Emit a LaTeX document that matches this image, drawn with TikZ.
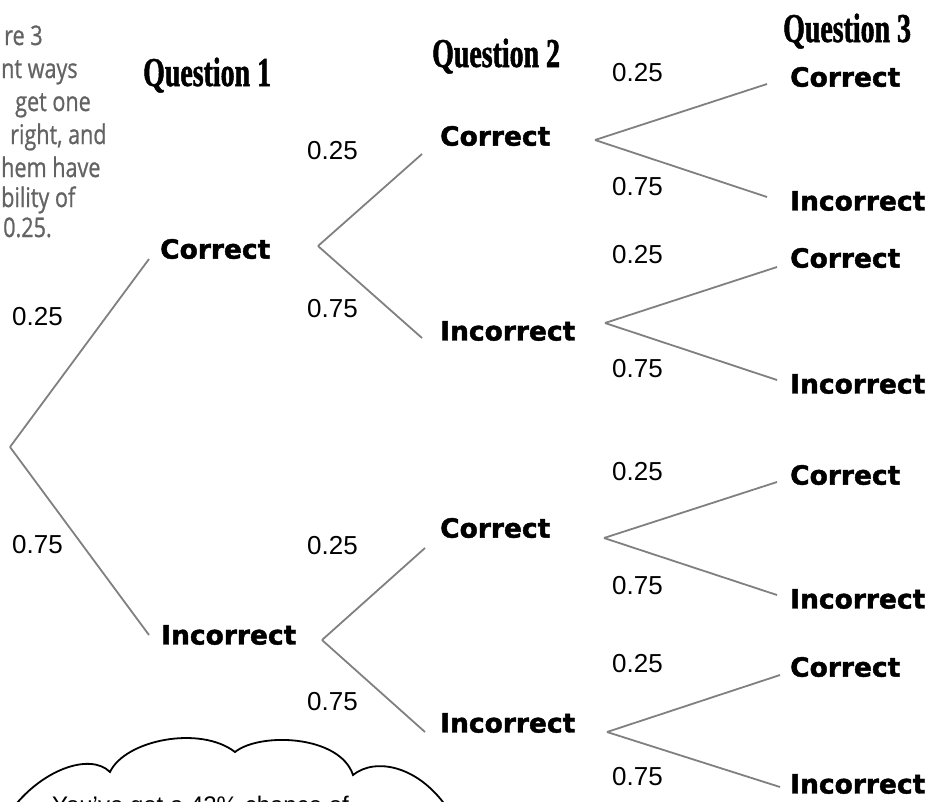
\documentclass[tikz,border=0pt]{standalone}
\usepackage{fontspec}
\setmainfont{Liberation Sans}
\newfontfamily\outfont[BoldFeatures={FakeBold=1.6}]{DejaVu Sans}
\newfontfamily\headfont[FakeStretch=0.68,BoldFeatures={FakeBold=1.2}]{Liberation Serif}
\newfontfamily\notefont[FakeStretch=0.8,FakeBold=0.8]{Open Sans}
\usetikzlibrary{positioning,calc}
\definecolor{cBranch}{HTML}{808080}
\definecolor{cNote}{HTML}{636363}

\tikzset{
  outcome/.style={anchor=west,inner sep=0pt,font=\outfont\bfseries\fontsize{26.5}{30}\selectfont},
  prob/.style={anchor=west,inner sep=0pt,font=\fontsize{26}{30}\selectfont},
  qhead/.style={anchor=base west,inner sep=0pt,font=\headfont\bfseries\fontsize{41}{45}\selectfont},
  branch/.style={draw=cBranch,line width=1.8pt},
  noteline/.style={anchor=base west,inner sep=0pt,text=cNote,font=\notefont\fontsize{27}{32}\selectfont},
}

\begin{document}
\begin{tikzpicture}[x=1pt,y=-1pt]
\useasboundingbox (0,0) rectangle (929,801);

% headings
\node[qhead] (h1) at (143,86) {Question 1};
\node[qhead] (h2) at (432,67) {Question 2};
\node[qhead] (h3) at (783,42) {Question 3};

% note at the left edge
\foreach \x/\y/\t [count=\k] in {4/45/re 3, 1/78/nt ways, 15/111/get one, 10/144/{right, and},
    1/177/hem have, 1/207/bility of, 3/237/0.25.}
  \node[noteline] (note\k) at (\x,\y) {\t};

% outcomes
\node[outcome] (c1) at (160,249) {Correct};
\node[outcome] (i1) at (161,635) {Incorrect};
\node[outcome] (cc2) at (440,136) {Correct};
\node[outcome] (ci2) at (440,331) {Incorrect};
\node[outcome] (ic2) at (440,528) {Correct};
\node[outcome] (ii2) at (440,723) {Incorrect};
\foreach \n/\y/\t in {a/77/Correct, b/201/Incorrect, c/258/Correct, d/384/Incorrect,
    e/475/Correct, f/599/Incorrect, g/667/Correct, h/784/Incorrect}
  \node[outcome] (q3\n) at (790,\y) {\t};

% probabilities
\foreach \x/\y/\p [count=\k] in {12/317/0.25, 12/545/0.75, 307/151/0.25, 307/309/0.75,
    307/546/0.25, 307/702/0.75, 612/73/0.25, 612/187/0.75, 612/255/0.25, 612/369/0.75,
    612/472/0.25, 612/586/0.75, 612/664/0.25, 612/777/0.75}
  \node[prob] (p\k) at (\x,\y) {\p};

% branches
\coordinate (v0) at (10,447);
\coordinate (v1) at (318,246);
\coordinate (v2) at (322,640);
\coordinate (v3) at (595,140);
\coordinate (v4) at (605,323);
\coordinate (v5) at (604,538);
\coordinate (v6) at (607,732);
\foreach \v/\n/\dx/\dy in {v0/c1/-11/10, v0/i1/-12/0, v1/cc2/-18/18, v1/ci2/-18/7,
    v2/ic2/-15/20, v2/ii2/-15/9, v3/q3a/-23/7, v3/q3b/-23/-4, v4/q3c/-13/9, v4/q3d/-13/-4,
    v5/q3e/-13/7, v5/q3f/-13/-4, v6/q3g/-10/8, v6/q3h/-10/3}
  \draw[branch] (\v) -- ($(\n.west)+(\dx,\dy)$);

% cloud, cut at the bottom edge
\draw[line width=1.8pt] (10,812) .. controls (40,770) and (90,752) .. (110,772)
  .. controls (125,740) and (200,725) .. (235,752)
  .. controls (260,732) and (340,735) .. (353,775)
  .. controls (375,757) and (420,765) .. (450,812);
\node[anchor=base west,inner sep=0pt,font=\fontsize{24}{28}\selectfont] (cloudtext) at (52,813)
  {You’ve got a 42\% chance of};
\end{tikzpicture}
\end{document}
